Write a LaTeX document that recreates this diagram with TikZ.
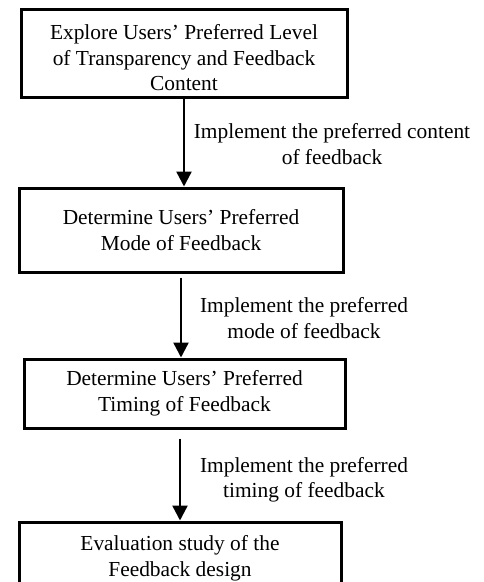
\documentclass[tikz,border=0pt]{standalone}
\usepackage{fontspec}
\setmainfont{Liberation Serif}
\usetikzlibrary{arrows.meta}
\tikzset{
	stagebox/.style={draw, line width=3pt, align=center, inner sep=0pt, font=\fontsize{21.4}{25.5}\selectfont},
	flow/.style={line width=2.4pt, -{Triangle[width=15pt,length=15pt]}},
	flowlabel/.style={align=center, inner sep=0pt, font=\fontsize{21.4}{25.5}\selectfont}
}

\begin{document}
\begin{tikzpicture}[x=1pt, y=-1pt] % {{{
\useasboundingbox (0,0) rectangle (483,582);
\clip (0,0) rectangle (483,582);
% stages
\node[stagebox, minimum width=326pt, minimum height=88pt] (explore) at (184,53)
	{\rule{0pt}{25pt}Explore Users' Preferred Level\\ of Transparency and Feedback\\ Content};
\node[stagebox, minimum width=324pt, minimum height=84pt] (mode) at (181,230)
	{Determine Users' Preferred\\ Mode of Feedback};
\node[stagebox, minimum width=321pt, minimum height=69pt] (timing) at (184.5,393.5)
	{Determine Users' Preferred\\ Timing of Feedback};
\node[stagebox, minimum width=322pt, minimum height=73pt] (evaluate) at (180,558.5)
	{Evaluation study of the\\ Feedback design};
% links
\draw[flow] (explore.south) -- (explore.south |- mode.north);
\draw[flow, shorten <=4pt] (mode.south) -- (mode.south |- timing.north);
\draw[flow, shorten <=9pt] (timing.south -| evaluate.north) -- (evaluate.north);
% labels
\node[flowlabel] (contentlbl) at (332,144) {Implement the preferred content\\ of feedback};
\node[flowlabel] (modelbl) at (304,318) {Implement the preferred\\ mode of feedback};
\node[flowlabel] (timinglbl) at (304,480) {Implement the preferred\\ timing of feedback};
\end{tikzpicture} % }}}
\end{document}
